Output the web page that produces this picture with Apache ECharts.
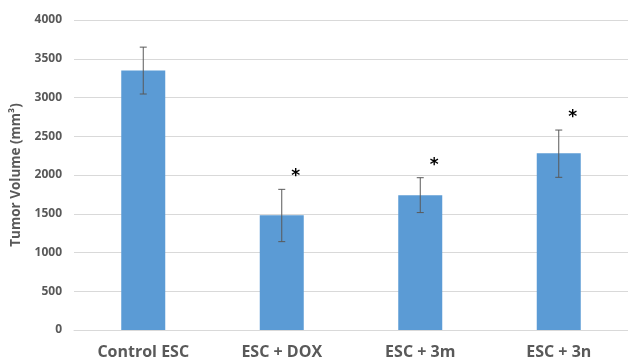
<!DOCTYPE html>
<html>
<head>
<meta charset="utf-8">
<script src="https://cdn.jsdelivr.net/npm/echarts@6/dist/echarts.min.js"></script>
<style>html,body{margin:0;padding:0;background:#fff}#c{width:628px;height:363px}</style>
</head>
<body>
<div id="c"></div>
<script>
const categories = ['Control ESC', 'ESC + DOX', 'ESC + 3m', 'ESC + 3n'];
const meanValues = [3350, 1480, 1740, 2280];
const errLow = [3045, 1140, 1515, 1970];
const errHigh = [3650, 1815, 1965, 2580];
const significant = [false, true, true, true];
const yTicks = [0, 500, 1000, 1500, 2000, 2500, 3000, 3500, 4000];

const chart = echarts.init(document.getElementById('c'));
const errData = categories.map((c, i) => [i, errLow[i], errHigh[i]]);
const starData = categories.map((c, i) => [i, errHigh[i]]).filter((d, i) => significant[i]);

chart.setOption({
  animation: false,
  grid: { left: 74, width: 560, top: 20, bottom: 33 },
  xAxis: {
    type: 'category',
    data: categories,
    axisLine: { lineStyle: { color: '#d9d9d9' } },
    axisTick: { show: false },
    axisLabel: { color: '#595959', fontSize: 16, fontWeight: 'bold', margin: 14, fontFamily: 'Open Sans' }
  },
  yAxis: {
    type: 'value',
    min: yTicks[0],
    max: yTicks[yTicks.length - 1],
    interval: 500,
    name: 'Tumor Volume (mm³)',
    nameLocation: 'middle',
    nameGap: 48,
    nameTextStyle: { color: '#595959', fontSize: 13.5, fontWeight: 'bold', fontFamily: 'Open Sans' },
    axisLine: { show: false },
    axisTick: { show: false },
    splitLine: { lineStyle: { color: '#d9d9d9' } },
    axisLabel: { color: '#595959', fontSize: 12, fontWeight: 'bold', margin: 12, fontFamily: 'Open Sans',
      formatter: function (v) { return String(v); } }
  },
  series: [
    {
      type: 'bar',
      data: meanValues,
      barWidth: 44,
      itemStyle: { color: '#5b9bd5' }
    },
    {
      type: 'custom',
      data: errData,
      z: 10,
      renderItem: function (params, api) {
        const i = api.value(0);
        const lo = api.coord([i, api.value(1)]);
        const hi = api.coord([i, api.value(2)]);
        const w = 3.5;
        const st = { stroke: '#595959', lineWidth: 1 };
        return {
          type: 'group',
          children: [
            { type: 'line', shape: { x1: hi[0], y1: hi[1], x2: lo[0], y2: lo[1] }, style: st },
            { type: 'line', shape: { x1: hi[0] - w, y1: hi[1], x2: hi[0] + w, y2: hi[1] }, style: st },
            { type: 'line', shape: { x1: lo[0] - w, y1: lo[1], x2: lo[0] + w, y2: lo[1] }, style: st }
          ]
        };
      }
    },
    {
      type: 'custom',
      data: starData,
      z: 11,
      renderItem: function (params, api) {
        const p = api.coord([api.value(0), api.value(1)]);
        return {
          type: 'text',
          style: {
            x: p[0] + 14, y: p[1] - 4, text: '*',
            fill: '#000', font: 'bold 17px "DejaVu Sans"',
            align: 'center', verticalAlign: 'bottom'
          }
        };
      }
    }
  ]
});
</script>
</body>
</html>
